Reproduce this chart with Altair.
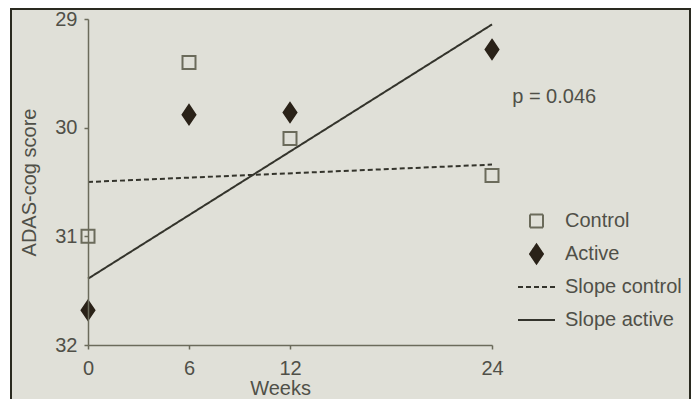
import altair as alt
import pandas as pd

# ---- data ----
weeks = [0, 6, 12, 24]
control = [31.0, 29.40, 30.10, 30.44]
active = [31.68, 29.88, 29.86, 29.28]
slope_weeks = [0, 24]
slope_control = [30.50, 30.34]
slope_active = [31.39, 29.05]
series_names = ["Control", "Active", "Slope control", "Slope active"]
p_label = "p = 0.046"
p_pos = [25.2, 29.72]
y_ticks = [29, 30, 31, 32]

pts = pd.DataFrame(
    {"week": weeks * 2, "score": control + active,
     "series": ["Control"] * 4 + ["Active"] * 4}
)
lines = pd.DataFrame(
    {"week": slope_weeks * 2, "score": slope_control + slope_active,
     "series": ["Slope control"] * 2 + ["Slope active"] * 2}
)
ptxt = pd.DataFrame({"week": [p_pos[0]], "score": [p_pos[1]], "label": [p_label]})

BG = "#e0e0d8"
AX = "#6b6b5b"
TXT = "#505048"
DARK = "#2a2218"
LINE = "#34342c"
DIAMOND = "M0,-1L0.68,0L0,1L-0.68,0Z"
FONT = "Liberation Sans"
FS = 20

xs = alt.Scale(domain=[0, 24], nice=False, zero=False)
ys = alt.Scale(domain=[29, 32], reverse=True, nice=False, zero=False)

x_enc = alt.X("week:Q", scale=xs, axis=alt.Axis(values=weeks, title="Weeks", format="d",
                                                labelPadding=9, labelFlush=False,
                                                titlePadding=0, titleX=192, zindex=1))
y_enc = alt.Y("score:Q", scale=ys, axis=alt.Axis(values=y_ticks, title="ADAS-cog score", format="d",
                                                 labelPadding=7, labelFlush=False,
                                                 titlePadding=15, zindex=1))

leg = alt.Legend(title=None, orient="none", legendX=429, legendY=188)

shape_s = alt.Scale(domain=series_names, range=["square", DIAMOND, "stroke", "stroke"])
fill_s = alt.Scale(domain=series_names, range=[BG, DARK, "transparent", "transparent"])
stroke_s = alt.Scale(domain=series_names, range=[AX, DARK, LINE, LINE])
size_s = alt.Scale(type="ordinal", domain=series_names, range=[169, 361, 1369, 1369])
dash_s = alt.Scale(domain=series_names, range=[[1, 0], [1, 0], [5, 3], [1, 0]])

frame = alt.Chart(alt.Data(values=[{}])).mark_rect(
    fill=BG, stroke="#2a2a20", strokeWidth=2
).encode(x=alt.value(-77), x2=alt.value(602), y=alt.value(-10), y2=alt.value(420))

line_layer = alt.Chart(lines).mark_line(strokeWidth=2).encode(
    x=x_enc, y=y_enc,
    stroke=alt.Stroke("series:N", scale=stroke_s, legend=leg),
    strokeDash=alt.StrokeDash("series:N", scale=dash_s, legend=leg),
    detail="series:N",
)

point_layer = alt.Chart(pts).mark_point(strokeWidth=2, opacity=1, filled=False).encode(
    x=x_enc, y=y_enc,
    shape=alt.Shape("series:N", scale=shape_s, legend=leg),
    fill=alt.Fill("series:N", scale=fill_s, legend=leg),
    stroke=alt.Stroke("series:N", scale=stroke_s, legend=leg),
    size=alt.Size("series:N", scale=size_s, legend=leg),
)

text_layer = alt.Chart(ptxt).mark_text(
    align="left", baseline="middle", fontSize=FS, color=TXT, font=FONT
).encode(x=alt.X("week:Q", scale=xs), y=alt.Y("score:Q", scale=ys), text="label:N")

chart = alt.layer(frame, line_layer, point_layer, text_layer).properties(
    width=404, height=326,
    autosize=alt.AutoSizeParams(type="none"),
    padding={"left": 80, "top": 11, "right": 199, "bottom": 54},
).configure(
    background="white",
).configure_view(stroke=None).configure_axis(
    grid=False, domainColor=AX, domainWidth=1.5, tickColor=AX, tickWidth=1.5, tickSize=4,
    labelFont=FONT, labelFontSize=FS, labelColor=TXT,
    titleFont=FONT, titleFontSize=FS, titleColor=TXT, titleFontWeight="normal",
).configure_legend(
    labelFont=FONT, labelFontSize=FS, labelColor=TXT, labelOffset=9,
    symbolStrokeWidth=2, rowPadding=5, padding=0, clipHeight=28,
)

chart.save("out.html", embed_options={"renderer": "svg", "actions": False})
